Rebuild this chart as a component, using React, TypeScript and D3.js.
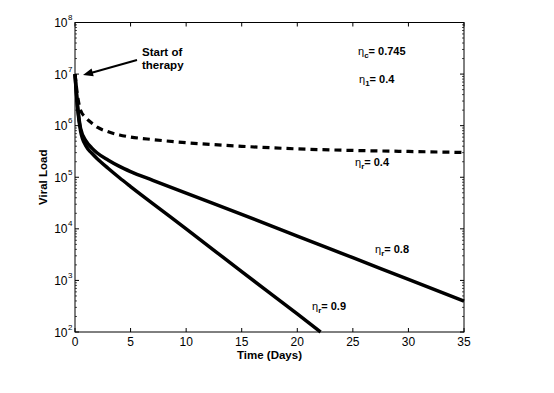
import React, { useEffect, useRef } from 'react';
import * as d3 from 'd3';

// time in days, log10 viral load
const timeA = [0, 0.25, 0.5, 1, 1.5, 2, 3, 4, 5, 7, 10, 15, 20, 25, 30, 35];
const etaR04 = [7, 6.55, 6.3, 6.15, 6.05, 5.97, 5.88, 5.82, 5.78, 5.73, 5.67, 5.6, 5.55, 5.52, 5.5, 5.48];
const etaR08 = [7, 6.35, 5.95, 5.7, 5.57, 5.47, 5.33, 5.21, 5.11, 4.94, 4.69, 4.28, 3.86, 3.44, 3.02, 2.6];
const timeB = [0, 0.25, 0.5, 1, 1.5, 2, 3, 4, 5, 7, 10, 15, 20, 22.1];
const etaR09 = [7, 6.3, 5.9, 5.6, 5.47, 5.36, 5.17, 4.99, 4.82, 4.49, 4.0, 3.17, 2.35, 2.0];

const xTicks = [0, 5, 10, 15, 20, 25, 30, 35];
const yExps = [2, 3, 4, 5, 6, 7, 8];

function App() {
  const ref = useRef<SVGSVGElement>(null);

  useEffect(() => {
    const svg = d3.select(ref.current);
    svg.selectAll('*').remove();

    const left = 75, right = 464, top = 22.5, bottom = 332;
    const x = d3.scaleLinear().domain([0, 35]).range([left, right]);
    const y = d3.scaleLog().domain([1e2, 1e8]).range([bottom, top]);
    const font = 'Liberation Sans, Arial, Helvetica, sans-serif';

    // curves
    const line = d3.line<[number, number]>()
      .x(d => x(d[0]))
      .y(d => y(Math.pow(10, d[1])))
      .curve(d3.curveMonotoneX);

    const curves = [
      { t: timeA, v: etaR04, dash: '7,5' },
      { t: timeA, v: etaR08, dash: null },
      { t: timeB, v: etaR09, dash: null },
    ];
    curves.forEach(c => {
      svg.append('path')
        .datum(c.t.map((t, i) => [t, c.v[i]] as [number, number]))
        .attr('d', line)
        .attr('fill', 'none')
        .attr('stroke', 'black')
        .attr('stroke-width', c.dash ? 3.2 : 3.5)
        .attr('stroke-dasharray', c.dash);
    });

    // frame
    svg.append('rect')
      .attr('x', left).attr('y', top)
      .attr('width', right - left).attr('height', bottom - top)
      .attr('fill', 'none').attr('stroke', 'black').attr('stroke-width', 1);

    // x ticks, bottom and top
    xTicks.forEach(t => {
      svg.append('line').attr('x1', x(t)).attr('x2', x(t))
        .attr('y1', bottom).attr('y2', bottom - 4).attr('stroke', 'black');
      svg.append('line').attr('x1', x(t)).attr('x2', x(t))
        .attr('y1', top).attr('y2', top + 4).attr('stroke', 'black');
      svg.append('text').attr('x', x(t)).attr('y', bottom + 14)
        .attr('text-anchor', 'middle').style('font-family', font).style('font-size', '12px')
        .text(t);
    });

    // y ticks with log minor ticks on both sides
    yExps.forEach(e => {
      const v = Math.pow(10, e);
      [left, right].forEach(side => {
        const dir = side === left ? 1 : -1;
        svg.append('line').attr('x1', side).attr('x2', side + dir * 4)
          .attr('y1', y(v)).attr('y2', y(v)).attr('stroke', 'black');
        if (e < 8) {
          for (let k = 2; k < 10; k++) {
            svg.append('line').attr('x1', side).attr('x2', side + dir * 2)
              .attr('y1', y(k * v)).attr('y2', y(k * v))
              .attr('stroke', 'black').attr('stroke-width', 0.7);
          }
        }
      });
      svg.append('text').attr('x', left - 7.5).attr('y', y(v) + 4.5)
        .attr('text-anchor', 'end').style('font-family', font).style('font-size', '12px')
        .text('10');
      svg.append('text').attr('x', left - 7).attr('y', y(v) - 2.5)
        .style('font-family', font).style('font-size', '8px').text(e);
    });

    // axis titles
    svg.append('text').attr('x', (left + right) / 2).attr('y', bottom + 27)
      .attr('text-anchor', 'middle').style('font-family', font).style('font-size', '11.5px')
      .style('font-weight', 'bold').text('Time (Days)');
    svg.append('text')
      .attr('transform', `translate(47,${(top + bottom) / 2}) rotate(-90)`)
      .attr('text-anchor', 'middle').style('font-family', font).style('font-size', '11.5px')
      .style('font-weight', 'bold').text('Viral Load');

    // eta labels
    const etaLabel = (px: number, py: number, sub: string, val: string) => {
      const t = svg.append('text').attr('x', px).attr('y', py)
        .style('font-family', font).style('font-size', '11px');
      t.append('tspan').text('η');
      t.append('tspan').attr('dy', 3).style('font-size', '8px').style('font-weight', 'bold').text(sub);
      t.append('tspan').attr('dy', -3).style('font-weight', 'bold').text('= ' + val);
    };
    etaLabel(358, 55, 'c', '0.745');
    etaLabel(359, 83, '1', '0.4');
    etaLabel(355, 166, 'r', '0.4');
    etaLabel(375, 253, 'r', '0.8');
    etaLabel(312, 310, 'r', '0.9');

    // start of therapy annotation
    svg.append('text').attr('x', 142).attr('y', 56)
      .style('font-family', font).style('font-size', '11.5px').style('font-weight', 'bold')
      .text('Start of');
    svg.append('text').attr('x', 142).attr('y', 69)
      .style('font-family', font).style('font-size', '11.5px').style('font-weight', 'bold')
      .text('therapy');
    const tipX = x(0) + 8, tipY = y(1e7) + 1;
    svg.append('line').attr('x1', 137).attr('y1', 60).attr('x2', tipX + 6).attr('y2', tipY - 1.5)
      .attr('stroke', 'black').attr('stroke-width', 2);
    const ang = Math.atan2(tipY - 60, tipX - 137);
    const hl = 10, hw = 4;
    const bx = tipX - hl * Math.cos(ang), by = tipY - hl * Math.sin(ang);
    svg.append('path')
      .attr('d', `M${tipX},${tipY} L${bx - hw * Math.sin(ang)},${by + hw * Math.cos(ang)} L${bx + hw * Math.sin(ang)},${by - hw * Math.cos(ang)} Z`)
      .attr('fill', 'black');
  }, []);

  return (
    <svg ref={ref} width={554} height={393}
      style={{ position: 'absolute', left: 0, top: 0, background: 'white' }} />
  );
}

export default App;
